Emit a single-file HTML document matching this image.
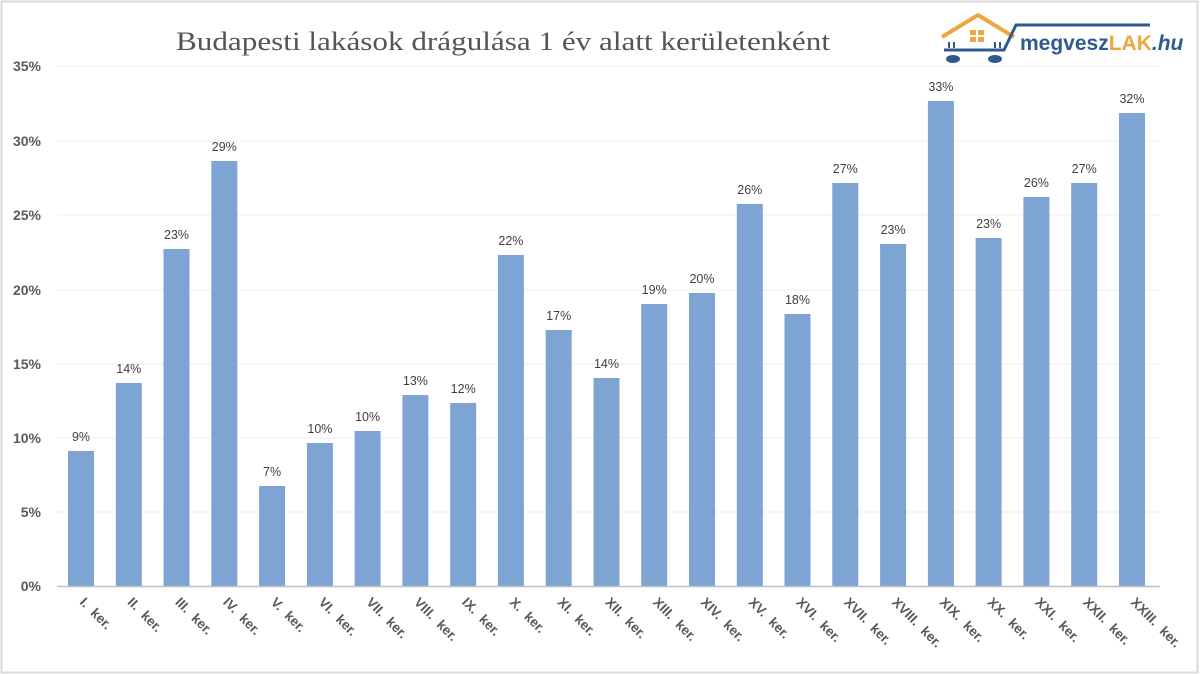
<!DOCTYPE html>
<html><head><meta charset="utf-8"><style>
html,body{margin:0;padding:0;background:#fff;}
svg{display:block;}
</style></head><body>
<svg width="1200" height="674" viewBox="0 0 1200 674" xmlns="http://www.w3.org/2000/svg">
<rect x="0" y="0" width="1200" height="674" fill="#fff"/>
<rect x="1.5" y="1.5" width="1196" height="671" fill="none" stroke="#d9d9d9" stroke-width="2"/>
<text x="176" y="50" font-family="Liberation Serif, serif" font-size="26" fill="#555" textLength="654" lengthAdjust="spacingAndGlyphs">Budapesti lakások drágulása 1 év alatt kerületenként</text>
<!-- logo -->
<g>
<polyline points="942,37 978,15 1014,37" fill="none" stroke="#f0a640" stroke-width="4" stroke-linejoin="round"/>
<rect x="970" y="30" width="6" height="5" fill="#f0a640"/><rect x="978" y="30" width="6" height="5" fill="#f0a640"/>
<rect x="970" y="37" width="6" height="5" fill="#f0a640"/><rect x="978" y="37" width="6" height="5" fill="#f0a640"/>
<rect x="948" y="42" width="2" height="6" fill="#2f5a8f"/><rect x="953" y="42" width="2" height="6" fill="#2f5a8f"/>
<rect x="994" y="42" width="2" height="6" fill="#2f5a8f"/><rect x="999" y="42" width="2" height="6" fill="#2f5a8f"/>
<polyline points="944,50 1004,50 1016,25 1150,25" fill="none" stroke="#2f5a8f" stroke-width="3"/>
<ellipse cx="953" cy="59" rx="7" ry="4" fill="#2f5a8f"/><ellipse cx="995" cy="59" rx="7" ry="4" fill="#2f5a8f"/>
<text x="1020" y="50" font-family="Liberation Sans, sans-serif" font-size="21" font-weight="bold"><tspan fill="#2f5a8f">megvesz</tspan><tspan fill="#f0a640">LAK</tspan><tspan fill="#2f5a8f" font-style="italic">.hu</tspan></text>
</g>
<!-- grid -->
<g stroke="#eeeeee" stroke-width="1">
<line x1="57" y1="66" x2="1160" y2="66"/><line x1="57" y1="141" x2="1160" y2="141"/>
<line x1="57" y1="215" x2="1160" y2="215"/><line x1="57" y1="290" x2="1160" y2="290"/>
<line x1="57" y1="364" x2="1160" y2="364"/><line x1="57" y1="438" x2="1160" y2="438"/>
<line x1="57" y1="512" x2="1160" y2="512"/>
</g>
<g font-family="Liberation Sans, sans-serif" font-size="14" font-weight="bold" fill="#595959" text-anchor="end">
<text x="41" y="71">35%</text><text x="41" y="146">30%</text><text x="41" y="220">25%</text>
<text x="41" y="295">20%</text><text x="41" y="369">15%</text><text x="41" y="443">10%</text>
<text x="41" y="517">5%</text><text x="41" y="591">0%</text>
</g>
<g fill="#7ea4d4">
<rect x="68" y="451" width="26" height="135"/>
<rect x="115.8" y="383" width="26" height="203"/>
<rect x="163.5" y="249" width="26" height="337"/>
<rect x="211.3" y="161" width="26" height="425"/>
<rect x="259.1" y="486" width="26" height="100"/>
<rect x="306.9" y="443" width="26" height="143"/>
<rect x="354.6" y="431" width="26" height="155"/>
<rect x="402.4" y="395" width="26" height="191"/>
<rect x="450.2" y="403" width="26" height="183"/>
<rect x="497.9" y="255" width="26" height="331"/>
<rect x="545.7" y="330" width="26" height="256"/>
<rect x="593.5" y="378" width="26" height="208"/>
<rect x="641.2" y="304" width="26" height="282"/>
<rect x="689" y="293" width="26" height="293"/>
<rect x="736.8" y="204" width="26" height="382"/>
<rect x="784.5" y="314" width="26" height="272"/>
<rect x="832.3" y="183" width="26" height="403"/>
<rect x="880.1" y="244" width="26" height="342"/>
<rect x="927.9" y="101" width="26" height="485"/>
<rect x="975.6" y="238" width="26" height="348"/>
<rect x="1023.4" y="197" width="26" height="389"/>
<rect x="1071.2" y="183" width="26" height="403"/>
<rect x="1119" y="113" width="26" height="473"/>
</g>
<line x1="57" y1="586.5" x2="1160" y2="586.5" stroke="#bfbfbf" stroke-width="1.5"/>
<g font-family="Liberation Sans, sans-serif" font-size="12.5" fill="#404040" text-anchor="middle">
<text x="81" y="441">9%</text><text x="128.8" y="373">14%</text><text x="176.5" y="239">23%</text>
<text x="224.3" y="151">29%</text><text x="272.1" y="476">7%</text><text x="319.9" y="433">10%</text>
<text x="367.6" y="421">10%</text><text x="415.4" y="385">13%</text><text x="463.2" y="393">12%</text>
<text x="510.9" y="245">22%</text><text x="558.7" y="320">17%</text><text x="606.5" y="368">14%</text>
<text x="654.2" y="294">19%</text><text x="702" y="283">20%</text><text x="749.8" y="194">26%</text>
<text x="797.5" y="304">18%</text><text x="845.3" y="173">27%</text><text x="893.1" y="234">23%</text>
<text x="940.9" y="91">33%</text><text x="988.6" y="228">23%</text><text x="1036.4" y="187">26%</text>
<text x="1084.2" y="173">27%</text><text x="1132" y="103">32%</text>
</g>
<g font-family="Liberation Sans, sans-serif" font-size="13.5" font-weight="bold" fill="#595959" word-spacing="4">
<text transform="translate(79,603) rotate(45)">I. ker.</text>
<text transform="translate(126.8,603) rotate(45)">II. ker.</text>
<text transform="translate(174.5,603) rotate(45)">III. ker.</text>
<text transform="translate(222.3,603) rotate(45)">IV. ker.</text>
<text transform="translate(270.1,603) rotate(45)">V. ker.</text>
<text transform="translate(317.9,603) rotate(45)">VI. ker.</text>
<text transform="translate(365.6,603) rotate(45)">VII. ker.</text>
<text transform="translate(413.4,603) rotate(45)">VIII. ker.</text>
<text transform="translate(461.2,603) rotate(45)">IX. ker.</text>
<text transform="translate(508.9,603) rotate(45)">X. ker.</text>
<text transform="translate(556.7,603) rotate(45)">XI. ker.</text>
<text transform="translate(604.5,603) rotate(45)">XII. ker.</text>
<text transform="translate(652.2,603) rotate(45)">XIII. ker.</text>
<text transform="translate(700,603) rotate(45)">XIV. ker.</text>
<text transform="translate(747.8,603) rotate(45)">XV. ker.</text>
<text transform="translate(795.5,603) rotate(45)">XVI. ker.</text>
<text transform="translate(843.3,603) rotate(45)">XVII. ker.</text>
<text transform="translate(891.1,603) rotate(45)">XVIII. ker.</text>
<text transform="translate(938.9,603) rotate(45)">XIX. ker.</text>
<text transform="translate(986.6,603) rotate(45)">XX. ker.</text>
<text transform="translate(1034.4,603) rotate(45)">XXI. ker.</text>
<text transform="translate(1082.2,603) rotate(45)">XXII. ker.</text>
<text transform="translate(1130,603) rotate(45)">XXIII. ker.</text>
</g>
</svg>
</body></html>
